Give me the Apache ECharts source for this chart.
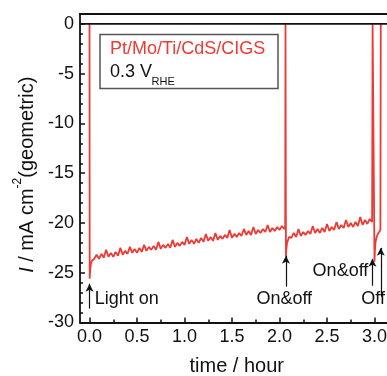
<!DOCTYPE html>
<html>
<head>
<meta charset="utf-8">
<script src="https://cdn.jsdelivr.net/npm/echarts@6/dist/echarts.min.js"></script>
<style>html,body{margin:0;padding:0;background:#fff;}#c{width:387px;height:376px;}</style>
</head>
<body>
<div id="c"></div>
<script>
// ---- axis ranges and ticks ----
const xMin = -0.1, xMax = 3.2;
const yMin = -30, yMax = 1;
const xMajorTicks = [0, 0.5, 1.0, 1.5, 2.0, 2.5, 3.0];
const xMinorTicks = [0.25, 0.75, 1.25, 1.75, 2.25, 2.75];
const yMajorTicks = [-30, -25, -20, -15, -10, -5, 0];
const yMinorTicks = [-29, -28, -27, -26, -24, -23, -22, -21, -19, -18, -17, -16,
                     -14, -13, -12, -11, -9, -8, -7, -6, -4, -3, -2, -1];

// ---- measured trace: [time / hour, current / mA cm^-2] ----
const lightOn = [[0.000, 0.0], [0.002, -25.6], [0.008, -24.6], [0.015, -24.1], [0.025, -23.8], [0.035, -23.6]];
const run1 = [
  [0.050, -23.6], [0.075, -23.2], [0.100, -23.6], [0.125, -23.1], [0.150, -23.5], [0.175, -22.7],
  [0.200, -23.4], [0.225, -23.0], [0.250, -23.4], [0.275, -22.9], [0.300, -23.3], [0.325, -22.5],
  [0.350, -23.2], [0.375, -22.8], [0.400, -23.1], [0.425, -22.4], [0.450, -23.0], [0.475, -22.6],
  [0.500, -23.0], [0.525, -22.5], [0.550, -22.9], [0.575, -22.2], [0.600, -22.8], [0.625, -22.4],
  [0.650, -22.7], [0.675, -22.3], [0.700, -22.7], [0.725, -21.9], [0.750, -22.6], [0.775, -22.2],
  [0.800, -22.5], [0.825, -22.1], [0.850, -22.5], [0.875, -21.7], [0.900, -22.4], [0.925, -22.0],
  [0.950, -22.3], [0.975, -21.9], [1.000, -22.2], [1.025, -21.4], [1.050, -22.1], [1.075, -21.7],
  [1.100, -22.1], [1.125, -21.6], [1.150, -22.0], [1.175, -21.5], [1.200, -21.9], [1.225, -21.1],
  [1.250, -21.8], [1.275, -21.4], [1.300, -21.8], [1.325, -21.0], [1.350, -21.7], [1.375, -21.3],
  [1.400, -21.6], [1.425, -21.2], [1.450, -21.5], [1.475, -20.7], [1.500, -21.5], [1.525, -21.1],
  [1.550, -21.4], [1.575, -21.0], [1.600, -21.3], [1.625, -20.6], [1.650, -21.2], [1.675, -20.8],
  [1.700, -21.2], [1.725, -20.4], [1.750, -21.1], [1.775, -20.7], [1.800, -21.0], [1.825, -20.6],
  [1.850, -20.9], [1.875, -20.2], [1.900, -20.9], [1.925, -20.5], [1.950, -20.8], [1.975, -20.4],
  [2.000, -20.7], [2.025, -20.3], [2.050, -20.6], [2.060, -20.3]
];
const switch1 = [[2.063, 0.0], [2.066, 0.0], [2.068, -23.4], [2.072, -22.6], [2.080, -22.0], [2.090, -21.7], [2.100, -21.4], [2.112, -21.6]];
const run2 = [
  [2.125, -21.5], [2.150, -21.0], [2.175, -21.4], [2.200, -20.6], [2.225, -21.3], [2.250, -20.9],
  [2.275, -21.2], [2.300, -20.8], [2.325, -21.1], [2.350, -20.3], [2.375, -21.0], [2.400, -20.6],
  [2.425, -21.0], [2.450, -20.5], [2.475, -20.9], [2.500, -20.1], [2.525, -20.8], [2.550, -20.4],
  [2.575, -20.7], [2.600, -19.9], [2.625, -20.6], [2.650, -20.2], [2.675, -20.5], [2.700, -19.7],
  [2.725, -20.4], [2.750, -20.0], [2.775, -20.4], [2.800, -19.9], [2.825, -20.3], [2.850, -19.4],
  [2.875, -20.2], [2.900, -19.7], [2.925, -20.1], [2.950, -19.6], [2.975, -19.9]
];
const switch2 = [[2.980, 0.0], [2.997, 0.0], [3.000, -23.9], [3.004, -22.8], [3.010, -22.0],
                 [3.020, -21.5], [3.035, -21.1], [3.050, -20.9], [3.062, -20.7], [3.066, 0.0]];

// ---- annotations (data coordinates) ----
const arrowX     = [0.000, 2.068, 2.978, 3.066];
const arrowFromY = [-28.6, -26.4, -26.3, -27.4];
const arrowToY   = [-26.1, -23.3, -23.6, -22.5];
const noteText   = ['Light on', 'On&off', 'On&off', 'Off'];
const noteX      = [0.055, 2.05, 2.935, 2.86];
const noteY      = [-27.6, -27.6, -24.8, -27.6];
const notePos    = ['right', 'inside', 'left', 'right'];

const FONT = 'Liberation Sans, Arial, Helvetica, sans-serif';
const RED = '#ee3a35';

const seriesData = [].concat(lightOn, run1, switch1, run2, switch2);
const zeroLine = [[xMin, 0], [xMax, 0]];

const chart = echarts.init(document.getElementById('c'), null, {renderer: 'canvas'});

const baseGrid = {left: 80, right: -6.5, top: 14, bottom: 53.5, containLabel: false, outerBoundsMode: 'none'};

const option = {
  animation: false,
  backgroundColor: '#ffffff',
  textStyle: {fontFamily: FONT},
  title: [{
    left: 100, top: 31.7,
    padding: [5.8, 12.5, 8.2, 10],
    borderColor: '#555555', borderWidth: 1.5,
    text: '{a|Pt/Mo/Ti/CdS/CIGS}\n{b|0.3 V}',
    textStyle: {
      fontFamily: FONT, fontWeight: 'normal',
      rich: {
        a: {color: RED, fontSize: 18, lineHeight: 23, fontFamily: FONT, fontWeight: 'normal'},
        b: {color: '#111', fontSize: 18, lineHeight: 23, fontFamily: FONT, fontWeight: 'normal'}
      }
    }
  }, {
    left: 151.5, top: 76, padding: 0,
    text: 'RHE',
    textStyle: {fontFamily: FONT, fontSize: 11, fontWeight: 'normal', color: '#111'}
  }],
  grid: [baseGrid, Object.assign({}, baseGrid)],
  xAxis: [{
    type: 'value', gridIndex: 0, position: 'bottom', min: xMin, max: xMax,
    name: 'time / hour', nameLocation: 'middle', nameGap: 34,
    nameTextStyle: {fontFamily: FONT, fontSize: 20, color: '#111'},
    axisLine: {show: true, onZero: false, lineStyle: {color: '#111', width: 1.8}},
    axisTick: {show: true, inside: true, length: 5, customValues: xMajorTicks, lineStyle: {color: '#111', width: 1.5}},
    axisLabel: {show: true, customValues: xMajorTicks, margin: 6, fontSize: 18, color: '#111', fontFamily: FONT,
                formatter: v => v.toFixed(1)},
    splitLine: {show: false}
  }, {
    type: 'value', gridIndex: 0, position: 'top', min: xMin, max: xMax,
    axisLine: {show: true, onZero: false, lineStyle: {color: '#111', width: 1.8}},
    axisTick: {show: false}, axisLabel: {show: false}, splitLine: {show: false}
  }, {
    type: 'value', gridIndex: 1, position: 'bottom', min: xMin, max: xMax,
    axisLine: {show: false, onZero: false},
    axisTick: {show: true, inside: true, length: 3, customValues: xMinorTicks, lineStyle: {color: '#111', width: 1.5}},
    axisLabel: {show: false}, splitLine: {show: false}
  }],
  yAxis: [{
    type: 'value', gridIndex: 0, position: 'left', min: yMin, max: yMax,
    name: '{i|I}{n| / mA cm}{s|-2}{n|(geometric)}',
    nameLocation: 'middle', nameRotate: 90, nameGap: 37,
    nameTextStyle: {
      fontFamily: FONT, color: '#111', padding: [0, 13, 0, 0],
      rich: {
        i: {fontSize: 20, fontStyle: 'italic', lineHeight: 30, fontFamily: FONT, color: '#111'},
        n: {fontSize: 20, lineHeight: 30, fontFamily: FONT, color: '#111'},
        s: {fontSize: 12, lineHeight: 12, verticalAlign: 'top', fontFamily: FONT, color: '#111'}
      }
    },
    axisLine: {show: true, onZero: false, lineStyle: {color: '#111', width: 1.8}},
    axisTick: {show: true, inside: true, length: 5, customValues: yMajorTicks, lineStyle: {color: '#111', width: 1.5}},
    axisLabel: {show: true, customValues: yMajorTicks, margin: 6, fontSize: 18, color: '#111', fontFamily: FONT},
    splitLine: {show: false}
  }, {
    type: 'value', gridIndex: 1, position: 'left', min: yMin, max: yMax,
    axisLine: {show: false, onZero: false},
    axisTick: {show: true, inside: true, length: 3, customValues: yMinorTicks, lineStyle: {color: '#111', width: 1.5}},
    axisLabel: {show: false}, splitLine: {show: false}
  }],
  series: [{
    name: 'Pt/Mo/Ti/CdS/CIGS',
    type: 'line', xAxisIndex: 0, yAxisIndex: 0,
    data: seriesData, showSymbol: false, symbol: 'none',
    lineStyle: {color: RED, width: 1.8}, z: 2,
    markLine: {
      silent: true, symbol: ['none', 'arrow'], symbolSize: [6, 8],
      lineStyle: {color: '#111', width: 1.2, type: 'solid'},
      label: {show: false},
      data: arrowX.map((x, i) => [{coord: [x, arrowFromY[i]]}, {coord: [x, arrowToY[i]]}])
    },
    markPoint: {
      silent: true, symbol: 'circle', symbolSize: 0,
      data: noteText.map((t, i) => ({
        coord: [noteX[i], noteY[i]],
        label: {show: true, formatter: t, position: notePos[i], distance: 0,
                fontSize: 18, color: '#111', fontFamily: FONT}
      }))
    }
  }, {
    name: 'zero', type: 'line', xAxisIndex: 0, yAxisIndex: 0,
    data: zeroLine, showSymbol: false, symbol: 'none',
    lineStyle: {color: '#111', width: 1.8}, z: 3, silent: true
  }]
};
chart.setOption(option);
</script>
</body>
</html>
